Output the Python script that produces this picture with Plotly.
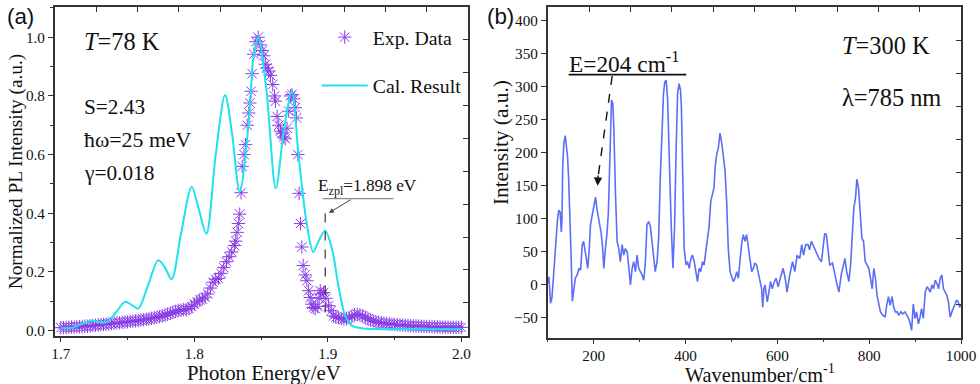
import plotly.graph_objects as go

# ---------------- panel (a) data ----------------
exp_energy = [
    1.700, 1.702, 1.704, 1.706, 1.708, 1.710, 1.712, 1.714, 1.716, 1.718,
    1.720, 1.722, 1.724, 1.726, 1.728, 1.730, 1.732, 1.734, 1.736, 1.738,
    1.740, 1.742, 1.744, 1.746, 1.748, 1.750, 1.752, 1.754, 1.756, 1.758,
    1.760, 1.762, 1.764, 1.766, 1.768, 1.770, 1.772, 1.774, 1.776, 1.778,
    1.780, 1.782, 1.784, 1.786, 1.788, 1.790, 1.792, 1.794, 1.796, 1.798,
    1.800, 1.802, 1.804, 1.806, 1.808, 1.810, 1.812, 1.814, 1.816, 1.818,
    1.820, 1.822, 1.824, 1.826, 1.828, 1.830, 1.831, 1.832, 1.833, 1.834,
    1.835, 1.8358, 1.8372, 1.8383, 1.8396, 1.8408, 1.8416, 1.8425, 1.8433, 1.8445,
    1.8462, 1.8478, 1.8495, 1.8508, 1.8520, 1.8532, 1.8545, 1.8557, 1.8570, 1.8587,
    1.8600, 1.8607, 1.8620, 1.8632, 1.8645, 1.8657, 1.8670, 1.8680, 1.8694, 1.8707,
    1.8720, 1.8731, 1.8745, 1.8756, 1.8765, 1.8775, 1.8785, 1.8795, 1.8805, 1.8815,
    1.8830, 1.8843, 1.8856, 1.8868, 1.8880, 1.8890, 1.8905, 1.8925, 1.8935, 1.8943,
    1.8955, 1.8968, 1.8985, 1.9005, 1.9025, 1.9043, 1.906, 1.908, 1.910, 1.912,
    1.914, 1.916, 1.918, 1.920, 1.922, 1.924, 1.926, 1.928, 1.930, 1.932,
    1.934, 1.936, 1.938, 1.940, 1.942, 1.944, 1.946, 1.948, 1.950, 1.952,
    1.954, 1.956, 1.958, 1.960, 1.962, 1.964, 1.966, 1.968, 1.970, 1.972,
    1.974, 1.976, 1.978, 1.980, 1.982, 1.984, 1.986, 1.988, 1.990, 1.992,
    1.994, 1.996, 1.998, 2.000,
]
exp_intensity = [
    0.010, 0.010, 0.011, 0.011, 0.012, 0.012, 0.013, 0.013, 0.014, 0.015,
    0.015, 0.016, 0.017, 0.018, 0.019, 0.020, 0.021, 0.022, 0.023, 0.024,
    0.025, 0.026, 0.027, 0.028, 0.029, 0.030, 0.031, 0.032, 0.033, 0.034,
    0.036, 0.037, 0.039, 0.040, 0.042, 0.044, 0.046, 0.048, 0.050, 0.053,
    0.056, 0.059, 0.062, 0.066, 0.069, 0.070, 0.072, 0.071, 0.075, 0.082,
    0.090, 0.098, 0.104, 0.108, 0.114, 0.125, 0.145, 0.165, 0.175, 0.178,
    0.195, 0.215, 0.235, 0.252, 0.268, 0.290, 0.305, 0.335, 0.365, 0.397,
    0.470, 0.560, 0.600, 0.634, 0.700, 0.742, 0.776, 0.816, 0.876, 0.942,
    0.985, 1.000, 0.974, 0.955, 0.937, 0.908, 0.895, 0.885, 0.870, 0.839,
    0.800, 0.782, 0.730, 0.700, 0.680, 0.673, 0.660, 0.654, 0.690, 0.748,
    0.800, 0.805, 0.790, 0.760, 0.725, 0.600, 0.468, 0.365, 0.285, 0.222,
    0.190, 0.170, 0.136, 0.113, 0.090, 0.079, 0.075, 0.082, 0.110, 0.136,
    0.125, 0.130, 0.110, 0.085, 0.068, 0.050, 0.046, 0.044, 0.041, 0.039,
    0.040, 0.044, 0.049, 0.054, 0.056, 0.054, 0.050, 0.045, 0.040, 0.036,
    0.033, 0.030, 0.028, 0.026, 0.025, 0.024, 0.023, 0.022, 0.021, 0.020,
    0.019, 0.019, 0.018, 0.017, 0.017, 0.016, 0.016, 0.015, 0.015, 0.014,
    0.014, 0.014, 0.013, 0.013, 0.013, 0.012, 0.012, 0.012, 0.012, 0.011,
    0.011, 0.011, 0.011, 0.011,
]
cal_energy = [
    1.700, 1.710, 1.718, 1.723, 1.728, 1.734, 1.741, 1.748, 1.753, 1.758,
    1.765, 1.773, 1.778, 1.783, 1.790, 1.798, 1.803, 1.809, 1.816, 1.823,
    1.828, 1.834, 1.8408, 1.8445, 1.848, 1.854, 1.861, 1.867, 1.873, 1.878,
    1.884, 1.889, 1.893, 1.898, 1.903, 1.908, 1.913, 1.918, 1.925, 1.940,
    1.970, 2.000,
]
cal_intensity = [
    0.008, 0.012, 0.028, 0.034, 0.030, 0.028, 0.060, 0.098, 0.088, 0.075,
    0.150, 0.240, 0.215, 0.175, 0.330, 0.490, 0.420, 0.330, 0.600, 0.803,
    0.680, 0.473, 0.713, 0.940, 1.000, 0.820, 0.485, 0.680, 0.816, 0.600,
    0.370, 0.268, 0.305, 0.340, 0.280, 0.150, 0.050, 0.017, 0.008, 0.005,
    0.005, 0.005,
]
a_xticks = [1.7, 1.8, 1.9, 2.0]
a_yticks = [0.0, 0.2, 0.4, 0.6, 0.8, 1.0]

# ---------------- panel (b) data ----------------
raman_wavenumber = [
    100, 102.5, 106, 109, 112, 115, 118, 121, 124, 127,
    129.5, 131, 132.5, 135, 138, 140.5, 143, 145.5, 148, 151,
    153.5, 156, 160, 164, 168, 171.5, 175, 178, 181, 184,
    187, 190, 193, 197, 200.5, 204, 207, 210, 213, 216,
    219, 222, 225.5, 229, 232, 234.5, 236.6, 238.8, 241.6, 243.8,
    247.5, 251, 254.6, 258, 262, 265.5, 269, 273, 276, 280,
    283.7, 287, 291, 294.5, 298, 301.7, 305.4, 309, 312.6, 316,
    319.7, 323.4, 327, 330.6, 334, 338, 341.5, 345, 348.8, 352,
    355, 358, 361, 364.6, 369, 372.6, 376, 379.8, 382.7, 386,
    389, 391, 393.5, 397, 401, 404, 408, 411.7, 415, 419,
    422.5, 426, 429.7, 433, 437, 440.5, 444, 447.7, 451, 455,
    458.5, 462, 464.4, 468, 471.6, 475, 479, 482.4, 486, 489.8,
    493, 497, 500.6, 504, 507.8, 511.5, 515, 518.6, 522, 525.8,
    529.5, 533, 536.6, 540, 544, 547.5, 551, 554.8, 558, 562,
    565.7, 568, 570.7, 573, 578, 581.5, 585, 588.8, 592, 597,
    601.7, 607, 612.5, 617, 621, 627, 633, 638, 643, 648.8,
    653, 657, 661.7, 666.7, 670, 674, 679, 685, 690.6, 696,
    699.5, 703, 706.7, 710.4, 714, 720, 724.7, 730, 734, 739,
    744, 747, 751, 755.7, 759.4, 763, 766.6, 770.2, 773, 776.7,
    780.4, 784, 787.6, 791.3, 795.6, 799, 802.8, 806.4, 810, 813.6,
    817, 820.8, 824.4, 829.4, 834.6, 838, 841.8, 845.5, 849.8, 853.3,
    857, 860.7, 864, 869, 872.8, 878, 881.5, 885.8, 889.5, 892.3,
    896, 899.8, 903.3, 907, 910.8, 914, 917.8, 922, 925.8, 929.3,
    933, 936.7, 940, 943.8, 947.4, 951, 954.6, 958, 961.8, 965.4,
    969, 972.5, 976.2, 980, 983.4, 987, 990, 993.7, 997.3, 1000,
]
raman_intensity = [
    3, 12, -28, -20, 8, 40, 72, 98, 113, 110,
    80, 100, 178, 214, 226, 212, 195, 160, 115, 40,
    -25, -10, 10, 15, 25, 22, 60, 66, 55, 40,
    25, 50, 91, 108, 118, 133, 115, 103, 96, 80,
    60, 25, 55, 78, 110, 170, 239, 280, 275, 239,
    137, 66, 55, 35, 61, 45, 55, 50, 30, 0,
    25, 35, 20, 45, 25, 20, 15, 7, 35, 91,
    96, 89, 66, 35, 20, 35, 71, 162, 239, 290,
    308, 310, 280, 188, 86, 25, 86, 214, 290, 305,
    295, 270, 188, 55, 30, 35, 25, 40, 45, 35,
    20, 5, 25, 20, 35, 30, 50, 66, 86, 127,
    137, 147, 178, 198, 208, 230, 214, 193, 173, 122,
    55, 20, 10, 5, 10, 20, 10, 40, 61, 76,
    66, 76, 55, 40, 20, 25, 33, 30, 20, 10,
    -6, -34, -6, 0, -26, -11, 5, -6, 2, 10,
    -3, 12, 25, 10, -11, 15, 35, 20, 45, 40,
    61, 45, 61, 61, 53, 66, 58, 50, 40, 35,
    55, 78, 76, 50, 30, 33, 15, 0, -11, 15,
    30, 40, 20, 5, 30, 71, 117, 132, 160, 147,
    112, 71, 66, 35, 30, 25, 10, -6, 25, 10,
    -16, -31, -41, -46, -49, -31, -18, -31, -18, -34,
    -41, -41, -46, -41, -44, -41, -46, -51, -59, -69,
    -29, -51, -41, -59, -49, -36, -51, -11, -3, -6,
    -11, 0, -6, 7, 2, -6, 10, 15, -6, -11,
    -16, -26, -49, -41, -36, -29, -23, -26, -34, -29,
]
b_xticks = [200, 400, 600, 800, 1000]
b_yticks = [-50, 0, 50, 100, 150, 200, 250, 300, 350, 400]

# ---------------- styling ----------------
# target picture size, and the layout size used for it (the page is shown
# at about 98.5 % of its layout size, so the layout is made that much larger)
W, H = 980, 384
K = 1 / 0.985
LW, LH = round(W * K), round(H * K)
SERIF = "Liberation Serif, Times New Roman, serif"
SANS = "Liberation Sans, Arial, sans-serif"
AX = "#333333"
PURPLE = "#8a3de6"
CYAN = "#1fe3ec"
BLUE = "#5b6ef5"


def px(x):
    return x / W


def py(y):
    return 1 - y / H


def fs(s):
    return round(s * K, 2)


fig = go.Figure()

fig.add_trace(go.Scatter(
    x=exp_energy, y=exp_intensity, mode="markers", name="Exp. Data",
    marker=dict(symbol="asterisk-open", size=11 * K, color=PURPLE,
                line=dict(color=PURPLE, width=1.0)),
    xaxis="x", yaxis="y", legend="legend",
))
fig.add_trace(go.Scatter(
    x=cal_energy, y=cal_intensity, mode="lines", name="Cal. Result",
    line=dict(color=CYAN, width=2, shape="spline", smoothing=0.9),
    xaxis="x", yaxis="y", legend="legend2",
))
fig.add_trace(go.Scatter(
    x=raman_wavenumber, y=raman_intensity, mode="lines", showlegend=False,
    line=dict(color=BLUE, width=1.6),
    xaxis="x2", yaxis="y2",
))
# empty traces so the mirrored tick axes are drawn
for xa, ya in [("x3", "y"), ("x", "y3"), ("x4", "y2"), ("x2", "y4")]:
    fig.add_trace(go.Scatter(x=[], y=[], xaxis=xa, yaxis=ya, showlegend=False))

common = dict(showgrid=False, zeroline=False, showline=True, linecolor=AX,
              linewidth=1.6, mirror=True, ticks="outside", ticklen=5,
              tickwidth=1.3, tickcolor=AX,
              tickfont=dict(family=SERIF, size=fs(15), color="#111"))
over = dict(showgrid=False, zeroline=False, showline=False, ticks="inside",
            ticklen=5, tickwidth=1.3, tickcolor=AX, showticklabels=False,
            dtick=1, tick0=0)

ydom_a = [py(333), py(7)]
ydom_b = [py(335), py(7)]
xdom_a = [px(52), px(467)]
xdom_b = [px(547), px(962)]

fig.update_layout(
    width=LW, height=LH, autosize=False, margin=dict(l=0, r=0, t=0, b=0),
    paper_bgcolor="white", plot_bgcolor="white",
    xaxis=dict(domain=xdom_a, range=[1.6955, 2.005], anchor="y",
               tickvals=a_xticks, ticktext=["1.7", "1.8", "1.9", "2.0"],
               ticklabelstandoff=-2,
               minor=dict(dtick=0.05, tick0=1.7, ticks="outside", ticklen=3,
                          tickcolor=AX, tickwidth=1.2), **common),
    yaxis=dict(domain=ydom_a, range=[-0.017, 1.103], anchor="x",
               tickvals=a_yticks,
               ticktext=["0.0", "0.2", "0.4", "0.6", "0.8", "1.0"],
               minor=dict(dtick=0.1, tick0=0, ticks="outside", ticklen=3,
                          tickcolor=AX, tickwidth=1.2), **common),
    xaxis3=dict(overlaying="x", anchor="y", side="top", range=[0, 10], **over),
    yaxis3=dict(overlaying="y", anchor="x", side="right", range=[-1, 9], **over),
    xaxis2=dict(domain=xdom_b, range=[100, 1000], anchor="y2",
                tickvals=b_xticks, ticklabelstandoff=-2,
                minor=dict(dtick=100, tick0=100, ticks="outside", ticklen=3,
                           tickcolor=AX, tickwidth=1.2), **common),
    yaxis2=dict(domain=ydom_b, range=[-80, 421], anchor="x2",
                tickvals=b_yticks, **common),
    xaxis4=dict(overlaying="x2", anchor="y2", side="top", range=[0, 10], **over),
    yaxis4=dict(overlaying="y2", anchor="x2", side="right", range=[-1, 9], **over),
    legend=dict(x=px(315), y=py(37), xanchor="left", yanchor="middle",
                bgcolor="rgba(0,0,0,0)", itemwidth=46,
                font=dict(family=SERIF, size=fs(19.5), color="#111")),
    legend2=dict(x=px(315), y=py(85), xanchor="left", yanchor="middle",
                 bgcolor="rgba(0,0,0,0)", itemwidth=46,
                 font=dict(family=SERIF, size=fs(19.5), color="#111")),
)


def note(text, x, y, size, xanchor="left", family=SERIF, angle=0):
    fig.add_annotation(text=text, x=px(x), y=py(y), xref="paper", yref="paper",
                       xanchor=xanchor, yanchor="middle", showarrow=False,
                       textangle=angle,
                       font=dict(family=family, size=fs(size), color="#111"))


note("(a)", 2, 16, 22, family=SANS)
note("(b)", 484, 16, 22, family=SANS)
note("<i>T</i>=78 K", 79, 41, 24)
note("S=2.43", 79, 106, 21)
note("ħω=25 meV", 79, 139, 21.5)
note("γ=0.018", 79, 172, 21)
note("E<sub>zpl</sub>=1.898 eV", 314, 186, 17)
note("<i>T</i>=300 K", 840, 45, 24)
note("λ=785 nm", 840, 97, 24)
note("E=204 cm<sup>-1</sup>", 566, 62, 23)
# axis titles
note("Photon Energy/eV", 262, 370, 20.5, xanchor="center")
note("Wavenumber/cm<sup>-1</sup>", 760, 370, 20, xanchor="center")
note("Normalized PL Intensity (a.u.)", 13, 170, 19, xanchor="center", angle=-90)
note("Intensity (a.u.)", 500, 141, 21, xanchor="center", angle=-90)

# E_zpl underline, arrow and dashed marker line
fig.add_shape(type="line", xref="paper", yref="paper",
              x0=px(321), x1=px(392), y0=py(197), y1=py(197),
              line=dict(color="#8a8a8a", width=1.2))
fig.add_annotation(x=1.9007, y=0.401, xref="x", yref="y", ax=23 * K, ay=-14 * K,
                   axref="pixel", ayref="pixel", text="", showarrow=True,
                   arrowhead=2, arrowsize=1, arrowwidth=1, arrowcolor="#444")
fig.add_shape(type="line", xref="x", yref="y", x0=1.898, x1=1.898,
              y0=0.062, y1=0.405, line=dict(color="#333", width=1.2, dash="dash"))

# E=204 underline and dashed arrow
fig.add_shape(type="line", xref="paper", yref="paper",
              x0=px(568), x1=px(686), y0=py(74), y1=py(74),
              line=dict(color="#111", width=1.6))
fig.add_shape(type="line", xref="x2", yref="y2", x0=240.3, y0=316.5,
              x1=209.8, y1=165, line=dict(color="#111", width=1.4, dash="dash"))
fig.add_annotation(x=208.5, y=150, xref="x2", yref="y2", ax=209.8, ay=168,
                   axref="x2", ayref="y2", text="", showarrow=True,
                   arrowhead=2, arrowsize=1.2, arrowwidth=1.4, arrowcolor="#111")

fig.write_html(
    "out.html",
    config={"displayModeBar": False, "responsive": False},
    post_script=(
        "document.documentElement.style.overflow='hidden';"
        "document.body.style.margin='0';"
        "document.body.style.overflow='hidden';"
    ),
)
